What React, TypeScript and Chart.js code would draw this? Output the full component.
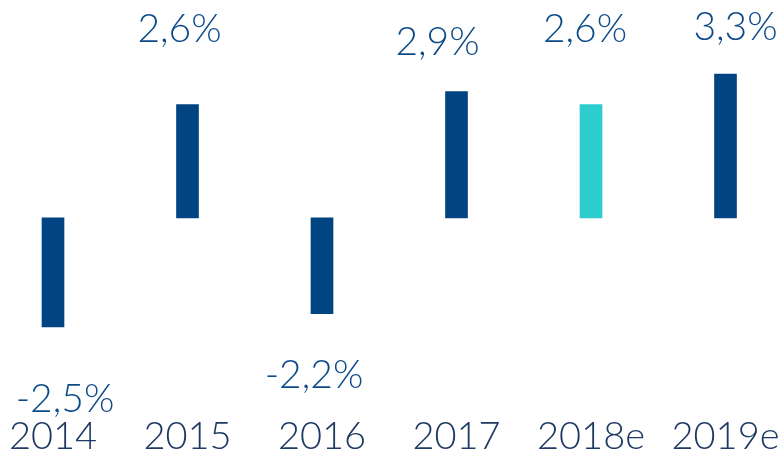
import React, { useEffect, useRef } from "react";
import { Chart, registerables } from "chart.js";

Chart.register(...registerables);

const categories = ["2014", "2015", "2016", "2017", "2018e", "2019e"];
const growth = [-2.5, 2.6, -2.2, 2.9, 2.6, 3.3];
const valueLabels = ["-2,5%", "2,6%", "-2,2%", "2,9%", "2,6%", "3,3%"];

// label placement nudges (style, not data): baseline offset from bar end, horizontal shift
const labelDy = [85, -63, 74, -37, -63, -34];
const labelDx = [12, -8, -8, -19, -6, 10];

const DARK = "#004481";
const AQUA = "#2DCCCD";
const barColors = [DARK, DARK, DARK, DARK, AQUA, DARK];
const FONT = "Lato";

const valueLabelPlugin = {
  id: "valueLabels",
  afterDatasetsDraw(chart: any) {
    const ctx = chart.ctx;
    const meta = chart.getDatasetMeta(0);
    ctx.save();
    ctx.font = `300 39px ${FONT}`;
    ctx.fillStyle = "#0d4b88";
    ctx.textAlign = "center";
    ctx.textBaseline = "alphabetic";
    meta.data.forEach((el: any, i: number) => {
      ctx.fillText(valueLabels[i], el.x + labelDx[i], el.y + labelDy[i]);
    });
    ctx.restore();
  },
};

export default function App() {
  const ref = useRef<HTMLCanvasElement | null>(null);
  useEffect(() => {
    if (!ref.current) return;
    const chart = new Chart(ref.current, {
      type: "bar",
      data: {
        labels: categories,
        datasets: [
          {
            data: growth,
            backgroundColor: barColors,
            borderWidth: 0,
            barThickness: 22,
            clip: false as any,
          },
        ],
      },
      options: {
        animation: false,
        responsive: true,
        maintainAspectRatio: false,
        layout: { padding: { left: 53, right: 58.5, top: 0, bottom: 0 } },
        plugins: { legend: { display: false }, tooltip: { enabled: false } },
        scales: {
          x: {
            offset: false,
            grid: { display: false, drawTicks: false },
            border: { display: false },
            afterFit: (scale: any) => {
              scale.height = 42;
              scale.paddingLeft = 0;
              scale.paddingRight = 0;
            },
            ticks: {
              padding: 4,
              autoSkip: false,
              maxRotation: 0,
              color: "#1e3a62",
              font: { family: FONT, size: 38, weight: "300", lineHeight: 1 },
            },
          },
          y: {
            display: false,
            min: -4.5,
            max: 5,
          },
        },
      },
      plugins: [valueLabelPlugin],
    });
    return () => chart.destroy();
  }, []);
  return (
    <div style={{ position: "absolute", left: 0, top: 0, width: 784, height: 456, background: "#fff" }}>
      <canvas ref={ref} />
    </div>
  );
}
